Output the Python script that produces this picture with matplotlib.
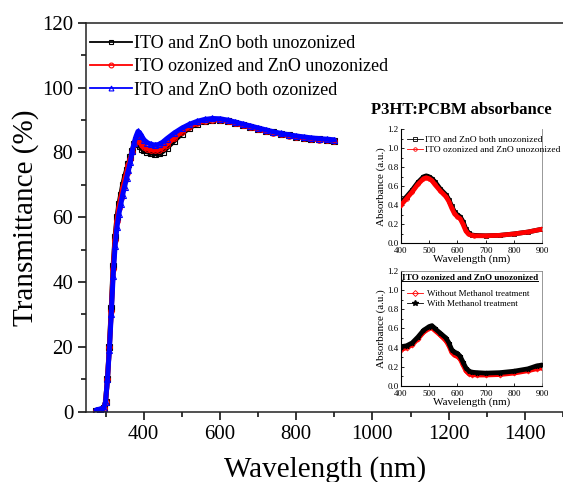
import matplotlib
matplotlib.use("Agg")
import matplotlib.pyplot as plt
from matplotlib.lines import Line2D
from matplotlib.ticker import MultipleLocator

plt.rcParams['font.family'] = ['Liberation Serif', 'DejaVu Serif']

# main chart: transmittance
wl = [275, 285, 295, 300, 305, 310, 315, 320, 325, 330, 335, 340, 345, 350,
      355, 360, 365, 370, 375, 380, 385, 390, 395, 400, 410, 420, 430, 440,
      450, 460, 480, 500, 520, 540, 560, 580, 600, 620, 640, 660, 680, 700,
      720, 740, 760, 780, 800, 820, 840, 860, 880, 900]
t_both_un = [0.2, 0.5, 1.0, 3, 10, 20, 32, 45, 54, 60, 64, 67, 70, 72.5,
             74.5, 76.5, 78.5, 80.5, 82.5, 84, 83.5, 82, 81.2, 80.8, 80.2, 79.8, 79.6, 79.7,
             80.3, 81.3, 83.6, 85.8, 87.6, 88.9, 89.7, 90.1, 90.1, 89.7, 89.1, 88.5, 87.9, 87.3,
             86.7, 86.2, 85.7, 85.3, 84.9, 84.6, 84.3, 84.1, 83.9, 83.7]
t_ito_oz = [0.3, 0.6, 1.0, 3, 10, 20, 31, 44, 53, 59, 63, 66, 69, 71.5,
            73.8, 76, 78, 80.2, 82.5, 84.3, 84.6, 83.2, 82.3, 81.8, 81.2, 80.9, 80.8, 80.9,
            81.5, 82.4, 84.5, 86.4, 88, 89.1, 89.8, 90.1, 90.0, 89.6, 89.0, 88.4, 87.8, 87.2,
            86.6, 86.1, 85.6, 85.2, 84.8, 84.5, 84.2, 84.0, 83.8, 83.5]
t_both_oz = [0.5, 0.8, 1.0, 3, 10, 19, 30, 42, 51, 57, 61, 64, 67, 69.5,
             72, 74.5, 77, 80.5, 83, 85, 86.5, 86.0, 85, 84, 83, 82.5, 82.3, 82.5,
             83.2, 84.2, 86, 87.5, 88.7, 89.6, 90.2, 90.5, 90.4, 90, 89.4, 88.8, 88.2, 87.6,
             87, 86.4, 85.9, 85.5, 85.1, 84.8, 84.5, 84.3, 84.1, 83.9]

# inset 1: absorbance, ozone
wl_a = [400, 420, 440, 460, 480, 490, 500, 510, 520, 540, 560, 570, 580, 590,
        600, 610, 620, 630, 640, 650, 660, 700, 750, 800, 850, 900]
a_both_un = [0.43, 0.49, 0.56, 0.64, 0.70, 0.71, 0.70, 0.68, 0.65, 0.57, 0.51, 0.46, 0.39, 0.33,
             0.30, 0.28, 0.23, 0.15, 0.11, 0.09, 0.085, 0.08, 0.085, 0.10, 0.12, 0.15]
a_ito_oz = [0.40, 0.47, 0.54, 0.62, 0.68, 0.69, 0.68, 0.66, 0.62, 0.55, 0.49, 0.44, 0.37, 0.31,
            0.28, 0.26, 0.20, 0.13, 0.095, 0.085, 0.08, 0.08, 0.085, 0.10, 0.12, 0.15]

# inset 2: methanol treatment
wl_m = [400, 420, 440, 460, 480, 500, 510, 520, 540, 560, 570, 580, 590, 600,
        610, 620, 630, 640, 650, 670, 700, 750, 800, 850, 880, 900]
a_no_meoh = [0.38, 0.40, 0.43, 0.49, 0.56, 0.60, 0.61, 0.58, 0.53, 0.47, 0.42, 0.35, 0.32, 0.31,
             0.28, 0.22, 0.16, 0.13, 0.12, 0.115, 0.115, 0.12, 0.135, 0.16, 0.18, 0.19]
a_meoh = [0.41, 0.42, 0.45, 0.51, 0.58, 0.62, 0.63, 0.60, 0.55, 0.50, 0.45, 0.38, 0.35, 0.34,
          0.31, 0.25, 0.19, 0.16, 0.145, 0.14, 0.135, 0.14, 0.155, 0.18, 0.21, 0.22]

fig = plt.figure(figsize=(5.63, 4.82), dpi=100)
ax = fig.add_axes([0.1536, 0.1459, 0.8464, 0.8066])

series = [(t_both_un, 'black', 's', 'ITO and ZnO both unozonized'),
          (t_ito_oz, 'red', 'o', 'ITO ozonized and ZnO unozonized'),
          (t_both_oz, 'blue', '^', 'ITO and ZnO both ozonized')]
for y, c, m, lab in series:
    ax.plot(wl, y, color=c, lw=3.6, solid_capstyle='round', zorder=2)
    ax.plot(wl, y, color=c, lw=0, marker=m, ms=4, mfc='none', mew=0.8, zorder=2)
handles = [Line2D([], [], color=c, lw=1.3, marker=m, ms=3.5, mfc='none', mew=0.8)
           for _, c, m, _ in series]
ax.legend(handles, [s[3] for s in series], loc='upper left', bbox_to_anchor=(0.0, 0.978),
          frameon=False, fontsize=13, handlelength=2.3, handletextpad=0.15,
          labelspacing=0.35, borderaxespad=0.1, borderpad=0.1)

ax.set_xlim(250, 1500)
ax.set_ylim(0, 120)
ax.xaxis.set_minor_locator(MultipleLocator(100))
ax.yaxis.set_major_locator(MultipleLocator(20))
ax.yaxis.set_minor_locator(MultipleLocator(10))
ax.set_xticks([400, 600, 800, 1000, 1200, 1400])
ax.tick_params(which='both', direction='out', labelsize=15, width=1.1)
ax.tick_params(which='major', length=6)
ax.tick_params(which='minor', length=3.5)
ax.spines['right'].set_visible(False)
for s in ['left', 'bottom', 'top']:
    ax.spines[s].set_linewidth(1.1)
    ax.spines[s].set_color('#222222')
ax.set_xlabel('Wavelength (nm)', fontsize=21, labelpad=9)
ax.set_ylabel('Transmittance (%)', fontsize=21, labelpad=2)

fig.text(0.819, 0.772, 'P3HT:PCBM absorbance', fontsize=12, fontweight='bold',
         ha='center', va='center')


def style_inset(a):
    a.set_xlim(400, 900)
    a.set_ylim(0, 1.2)
    a.xaxis.set_major_locator(MultipleLocator(100))
    a.yaxis.set_major_locator(MultipleLocator(0.2))
    a.yaxis.set_minor_locator(MultipleLocator(0.1))
    a.yaxis.set_major_formatter(lambda v, p: f'{v:.1f}')
    a.tick_params(which='both', direction='in', labelsize=6.5, width=0.6)
    a.tick_params(axis='y', pad=1.5)
    a.tick_params(axis='x', pad=2.5)
    a.tick_params(which='major', length=2.5)
    a.tick_params(which='minor', length=1.5)
    for s in ['left', 'bottom']:
        a.spines[s].set_linewidth(0.8)
    for s in ['top', 'right']:
        a.spines[s].set_color('#888888')
        a.spines[s].set_linewidth(0.6)
    a.set_xlabel('Wavelength (nm)', fontsize=8, labelpad=0)
    a.set_ylabel('Absorbance (a.u.)', fontsize=8, labelpad=1)


# inset 1
ax1 = fig.add_axes([0.712, 0.495, 0.251, 0.237])
ax1.plot(wl_a, a_both_un, color='black', lw=3.4, zorder=2)
ax1.plot(wl_a, a_both_un, color='black', lw=0, marker='s', ms=2.5, mfc='none', mew=0.6)
ax1.plot(wl_a, a_ito_oz, color='red', lw=3.4, zorder=3)
ax1.plot(wl_a, a_ito_oz, color='red', lw=0, marker='o', ms=2.5, mfc='none', mew=0.6, zorder=3)
style_inset(ax1)
ax1.spines['top'].set_visible(False)
h1 = [Line2D([], [], color='black', lw=0.6, marker='s', ms=2.5, mfc='none', mew=0.6),
      Line2D([], [], color='red', lw=0.6, marker='o', ms=2.5, mfc='none', mew=0.6)]
ax1.legend(h1, ['ITO and ZnO both unozonized', 'ITO ozonized and ZnO unozonized'],
           loc='upper left', bbox_to_anchor=(0.0, 1.0), frameon=False, fontsize=6.8,
           handlelength=1.6, handletextpad=0.3, labelspacing=0.15, borderpad=0.2)

# inset 2
ax2 = fig.add_axes([0.712, 0.199, 0.251, 0.239])
ax2.plot(wl_m, a_no_meoh, color='red', lw=3.4, zorder=2)
ax2.plot(wl_m, a_no_meoh, color='red', lw=0, marker='D', ms=2.5, mfc='none', mew=0.6)
ax2.plot(wl_m, a_meoh, color='black', lw=3.4, zorder=3)
ax2.plot(wl_m, a_meoh, color='black', lw=0, marker='*', ms=3.5, zorder=3)
style_inset(ax2)
h2 = [Line2D([], [], color='red', lw=0.6, marker='D', ms=3, mfc='none', mew=0.6),
      Line2D([], [], color='black', lw=0.6, marker='*', ms=4)]
ax2.legend(h2, ['Without Methanol treatment', 'With Methanol treatment'],
           loc='upper left', bbox_to_anchor=(0.0, 0.89), frameon=False, fontsize=6.5,
           handlelength=1.8, handletextpad=0.4, labelspacing=0.2, borderpad=0.2)
title2 = ax2.text(0.49, 0.94, 'ITO ozonized and ZnO unozonized', transform=ax2.transAxes,
                  fontsize=6.6, fontweight='bold', ha='center', va='center')

fig.canvas.draw()
bb = title2.get_window_extent().transformed(fig.transFigure.inverted())
fig.add_artist(Line2D([bb.x0, bb.x1], [bb.y0 + 0.001, bb.y0 + 0.001], color='black',
                      lw=0.7, transform=fig.transFigure))

fig.savefig('out.png', dpi=100)
